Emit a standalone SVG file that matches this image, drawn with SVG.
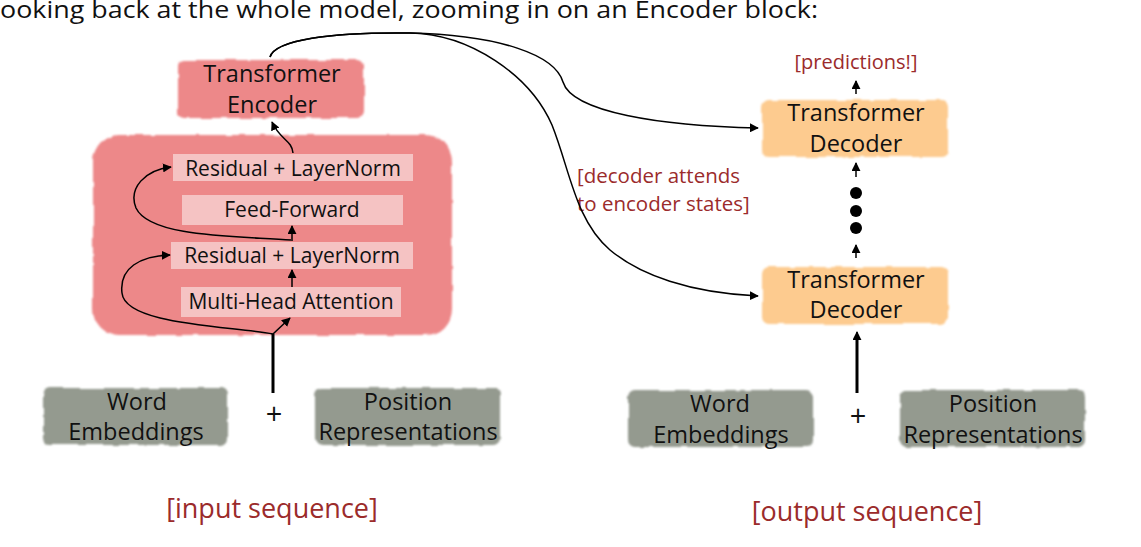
<svg xmlns="http://www.w3.org/2000/svg" width="1141" height="547" viewBox="0 0 1141 547">
<style>
.t{font-family:"Open Sans","Noto Sans","DejaVu Sans",sans-serif;fill:#111;text-anchor:middle}
.big{font-size:23.5px}
.mid{font-size:21px}
.plus{font-family:"Open Sans","Noto Sans","DejaVu Sans",sans-serif;fill:#111;text-anchor:middle;font-size:29px}
.red{font-family:"Open Sans","Noto Sans","DejaVu Sans",sans-serif;fill:#9B2B2B}
.enc{fill:#ED8889}
.inner{fill:#F5C3C3}
.dec{fill:#FDCB8F}
.emb{fill:#949A8F}
.c{fill:none;stroke:#000;stroke-width:1.5}
.thick{fill:none;stroke:#000;stroke-width:3}
</style>
<defs>
<filter id="rough" x="-5%" y="-10%" width="110%" height="120%">
<feTurbulence type="fractalNoise" baseFrequency="0.06" numOctaves="2" seed="3" result="n"/>
<feDisplacementMap in="SourceGraphic" in2="n" scale="4" xChannelSelector="R" yChannelSelector="G" result="d"/>
<feGaussianBlur in="d" stdDeviation="0.8"/>
</filter>
<marker id="ah" viewBox="0 0 10 10" refX="9" refY="5" markerWidth="9" markerHeight="9" markerUnits="userSpaceOnUse" orient="auto">
<path d="M0,0 L10,5 L0,10 z" fill="#000"/>
</marker>
</defs>
<rect width="1141" height="547" fill="#fff"/>

<text x="0" y="18" font-family="Open Sans, Noto Sans, sans-serif" font-size="24" fill="#111" textLength="818" lengthAdjust="spacingAndGlyphs">ooking back at the whole model, zooming in on an Encoder block:</text>

<g id="encoder-block">
<rect class="enc" x="93" y="135" width="359" height="200" rx="26" filter="url(#rough)"/>
</g>
<g id="transformer-encoder">
<rect class="enc" x="178" y="60" width="186" height="58" rx="6" filter="url(#rough)"/>
<text class="t big" x="272" y="82">Transformer</text>
<text class="t big" x="272" y="113">Encoder</text>
</g>
<g id="residual-layernorm-2">
<rect class="inner" x="173" y="154" width="240" height="27"/>
<text class="t mid" x="293" y="176">Residual + LayerNorm</text>
</g>
<g id="feed-forward">
<rect class="inner" x="182" y="195" width="221" height="30"/>
<text class="t mid" x="292" y="217">Feed-Forward</text>
</g>
<g id="residual-layernorm-1">
<rect class="inner" x="171" y="242" width="242" height="27"/>
<text class="t mid" x="292" y="263">Residual + LayerNorm</text>
</g>
<g id="multi-head-attention">
<rect class="inner" x="181" y="287" width="220" height="30"/>
<text class="t mid" x="291" y="309">Multi-Head Attention</text>
</g>

<g id="word-embeddings-in">
<rect class="emb" x="43" y="388" width="185" height="57" rx="7" filter="url(#rough)"/>
<text class="t big" x="137" y="410">Word</text>
<text class="t big" x="136" y="440">Embeddings</text>
</g>
<g id="plus-in"><text class="plus" x="274" y="424">+</text></g>
<g id="position-in">
<rect class="emb" x="315" y="388" width="185" height="57" rx="7" filter="url(#rough)"/>
<text class="t big" x="408" y="410">Position</text>
<text class="t big" x="408" y="440">Representations</text>
</g>
<g id="input-sequence"><text class="red" x="272" y="518" font-size="27" text-anchor="middle">[input sequence]</text></g>

<g id="decoder-top">
<rect class="dec" x="762" y="100" width="186" height="57" rx="7" filter="url(#rough)"/>
<text class="t big" x="856" y="121">Transformer</text>
<text class="t big" x="856" y="152">Decoder</text>
</g>
<g id="decoder-bottom">
<rect class="dec" x="762" y="267" width="186" height="57" rx="7" filter="url(#rough)"/>
<text class="t big" x="856" y="288">Transformer</text>
<text class="t big" x="856" y="318">Decoder</text>
</g>
<g id="dots">
<circle cx="856" cy="193" r="6"/>
<circle cx="856" cy="211" r="6"/>
<circle cx="856" cy="228" r="6"/>
</g>
<g id="predictions"><text class="red" x="856" y="69" font-size="20" text-anchor="middle">[predictions!]</text></g>
<g id="attends-label">
<text class="red" x="577" y="183" font-size="20.5">[decoder attends</text>
<text class="red" x="577" y="211" font-size="20.5">to encoder states]</text>
</g>

<g id="word-embeddings-out">
<rect class="emb" x="628" y="390" width="185" height="57" rx="7" filter="url(#rough)"/>
<text class="t big" x="720" y="412">Word</text>
<text class="t big" x="721" y="443">Embeddings</text>
</g>
<g id="plus-out"><text class="plus" x="858" y="426">+</text></g>
<g id="position-out">
<rect class="emb" x="900" y="390" width="185" height="57" rx="7" filter="url(#rough)"/>
<text class="t big" x="993" y="412">Position</text>
<text class="t big" x="993" y="443">Representations</text>
</g>
<g id="output-sequence"><text class="red" x="867" y="521" font-size="27" text-anchor="middle">[output sequence]</text></g>

<g id="connectors">
<path class="thick" d="M273,393 L273,334"/>
<path class="c" d="M273,334 L290,318" marker-end="url(#ah)"/>
<path class="c" d="M273,334 C230,326 125,325 122,293 C119,268 140,256 170,255" marker-end="url(#ah)"/>
<path class="c" d="M292,287 L292,270" marker-end="url(#ah)"/>
<path class="c" d="M292,241 L292,226" marker-end="url(#ah)"/>
<path class="c" d="M291,240 C240,236 150,238 136,208 C128,188 145,170 171,167" marker-end="url(#ah)"/>
<path class="c" d="M293,153 C292,140 280,140 272,122" marker-end="url(#ah)"/>
<path class="c" d="M270,57 C275,40 330,32 410,33 C500,35 555,55 563,82 C572,112 660,126 758,128" marker-end="url(#ah)"/>
<path class="c" d="M270,57 C275,40 330,32 410,33 C470,34 530,75 552,125 C570,170 575,220 610,250 C640,275 690,293 758,296" marker-end="url(#ah)"/>
<path class="c" d="M856,94 L856,81" marker-end="url(#ah)"/>
<path class="c" d="M856,177 L856,163" marker-end="url(#ah)"/>
<path class="c" d="M856,258 L856,245" marker-end="url(#ah)"/>
<path class="thick" d="M857,393 L857,340"/>
<path class="c" d="M857,345 L857,332" marker-end="url(#ah)"/>
</g>
</svg>
